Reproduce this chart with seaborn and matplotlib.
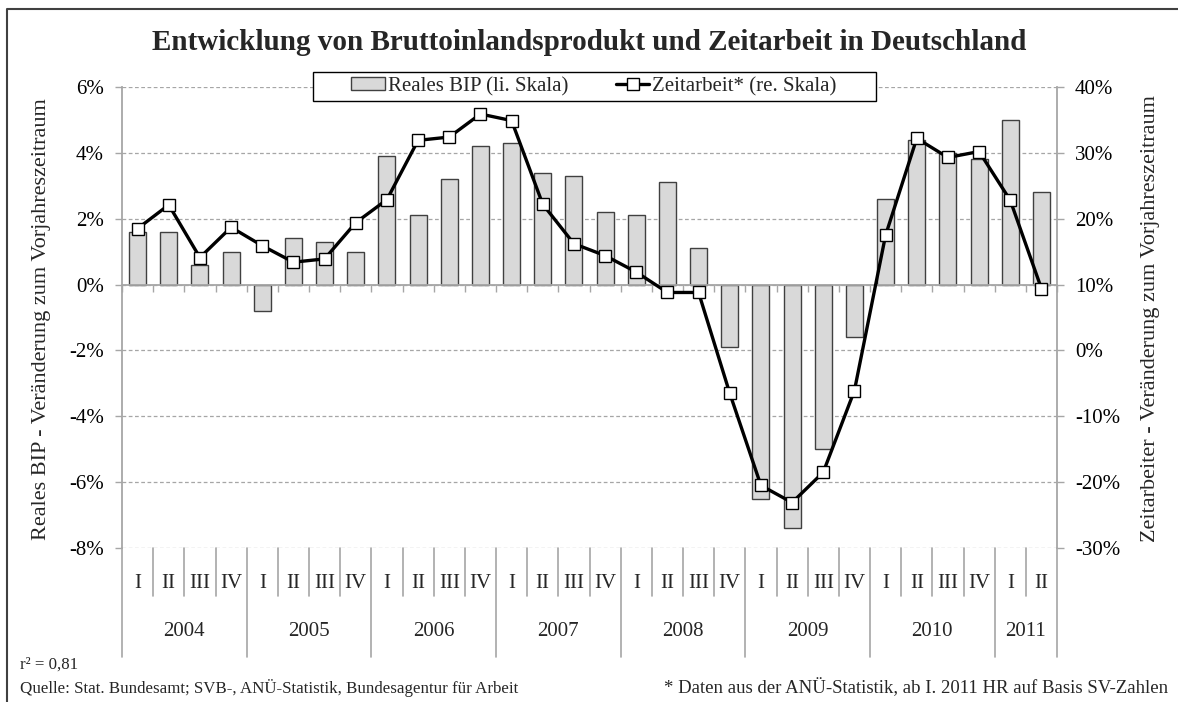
import matplotlib

matplotlib.use("Agg")

import matplotlib.pyplot as plt
import matplotlib.transforms as mtransforms
import numpy as np
import pandas as pd
import seaborn as sns
from matplotlib.lines import Line2D
from matplotlib.patches import Patch, Rectangle
from matplotlib.ticker import FuncFormatter, MultipleLocator

years = ["2004", "2005", "2006", "2007", "2008", "2009", "2010", "2011"]
quarters_per_year = [4, 4, 4, 4, 4, 4, 4, 2]
quarter_names = ["I", "II", "III", "IV"]

# Reales BIP, Veraenderung zum Vorjahreszeitraum in % (linke Skala)
bip = [1.6, 1.6, 0.6, 1.0,
       -0.8, 1.4, 1.3, 1.0,
       3.9, 2.1, 3.2, 4.2,
       4.3, 3.4, 3.3, 2.2,
       2.1, 3.1, 1.1, -1.9,
       -6.5, -7.4, -5.0, -1.6,
       2.6, 4.4, 4.0, 3.8,
       5.0, 2.8]

# Zeitarbeit, Veraenderung zum Vorjahreszeitraum in % (rechte Skala)
zeitarbeit = [18.5, 22.1, 14.1, 18.7,
              15.9, 13.4, 13.9, 19.4,
              22.9, 31.9, 32.4, 35.9,
              34.9, 22.2, 16.2, 14.4,
              11.9, 8.8, 8.8, -6.5,
              -20.5, -23.1, -18.5, -6.1,
              17.5, 32.2, 29.3, 30.2,
              22.8, 9.4]

labels = []
for year, n in zip(years, quarters_per_year):
    labels += [f"{q} {year}" for q in quarter_names[:n]]

df = pd.DataFrame({"quartal": labels, "bip": bip, "zeitarbeit": zeitarbeit})
df["pos"] = np.arange(len(df))

sns.set_theme(style="white")
plt.rcParams["font.family"] = ["Liberation Serif", "DejaVu Serif"]
plt.rcParams["axes.unicode_minus"] = False

GRAY = "#a6a6a6"
BAR = "#d9d9d9"
BAR_EDGE = "#404040"

fig = plt.figure(figsize=(11.78, 7.02), dpi=100)
ax = fig.add_axes([122 / 1178, 1 - 548 / 702, (1057 - 122) / 1178, (548 - 87) / 702])

sns.barplot(data=df, x="quartal", y="bip", color=BAR, width=0.55,
            edgecolor=BAR_EDGE, linewidth=1.0, saturation=1, ax=ax)
ax.set_xlim(-0.5, len(df) - 0.5)
ax.set_ylim(-8, 6)
ax.yaxis.set_major_locator(MultipleLocator(2))
ax.yaxis.set_major_formatter(FuncFormatter(lambda v, _: f"{v:.0f}%"))
ax.set_axisbelow(True)
ax.yaxis.grid(True, color=GRAY, linestyle=(0, (3, 2)), linewidth=0.9)
ax.xaxis.grid(False)
ax.set_xlabel("")
ax.set_ylabel("")

# category axis crosses at 0
ax.spines["bottom"].set_position(("data", 0))
ax.spines["bottom"].set_color(GRAY)
ax.spines["bottom"].set_linewidth(1.3)
ax.spines["top"].set_visible(False)
ax.spines["right"].set_visible(False)
ax.spines["left"].set_color(GRAY)
ax.spines["left"].set_linewidth(1.3)
ax.set_xticks(np.arange(-0.5, len(df), 1))
ax.set_xticklabels([])
ax.tick_params(axis="x", bottom=True, direction="out", length=5, width=1, color=GRAY)
ax.tick_params(axis="y", left=True, direction="out", length=5, width=1, color=GRAY,
               labelsize=15, pad=8, labelcolor="black")

ax2 = ax.twinx()
sns.lineplot(data=df, x="pos", y="zeitarbeit", color="black", linewidth=2.4,
             marker="s", markersize=8.5, markerfacecolor="white",
             markeredgecolor="black", markeredgewidth=1.0, ax=ax2)
ax2.set_xlim(-0.5, len(df) - 0.5)
ax2.set_ylim(-30, 40)
ax2.yaxis.set_major_locator(MultipleLocator(10))
ax2.yaxis.set_major_formatter(FuncFormatter(lambda v, _: f"{v:.0f}%"))
ax2.set_xlabel("")
ax2.set_ylabel("")
for side in ["top", "left", "bottom"]:
    ax2.spines[side].set_visible(False)
ax2.spines["right"].set_color(GRAY)
ax2.spines["right"].set_linewidth(1.3)
ax2.tick_params(axis="y", right=True, direction="out", length=5, width=1, color=GRAY,
                labelsize=15, pad=8, labelcolor="black")

# category labels below the plot
trans = mtransforms.blended_transform_factory(ax.transData, ax.transAxes)
axes_h = 548 - 87
q_bottom = -(596 - 548) / axes_h
y_bottom = -(657 - 548) / axes_h
start = 0
for year, n in zip(years, quarters_per_year):
    for k in range(n):
        ax.text(start + k, -(584 - 548) / axes_h, quarter_names[k], transform=trans,
                ha="center", va="center", fontsize=15)
        if k > 0:
            ax.plot([start + k - 0.5] * 2, [0, q_bottom], transform=trans,
                    color=GRAY, linewidth=1.2, clip_on=False)
    ax.plot([start - 0.5] * 2, [0, y_bottom], transform=trans,
            color=GRAY, linewidth=1.2, clip_on=False)
    ax.text(start + (n - 1) / 2, -(632 - 548) / axes_h, year, transform=trans,
            ha="center", va="center", fontsize=15)
    start += n
ax.plot([start - 0.5] * 2, [0, y_bottom], transform=trans,
        color=GRAY, linewidth=1.2, clip_on=False)

# legend box drawn separately so its padding matches the original
fig.patches.append(Rectangle((313 / 1178, 1 - 101 / 702), (876 - 313) / 1178, 29 / 702,
                             transform=fig.transFigure, facecolor="white",
                             edgecolor="black", linewidth=1.0, zorder=5))
handles = [
    Patch(facecolor=BAR, edgecolor=BAR_EDGE, linewidth=1.0),
    Line2D([0], [0], color="black", linewidth=2.4, marker="s", markersize=8.5,
           markerfacecolor="white", markeredgecolor="black", markeredgewidth=1.0),
]
leg = fig.legend(handles, ["Reales BIP (li. Skala)", "Zeitarbeit* (re. Skala)"],
                 loc="center", bbox_to_anchor=(594 / 1178, 1 - 86.5 / 702), ncol=2,
                 fontsize=15, frameon=False, borderpad=0.1, handlelength=1.6,
                 handleheight=0.6, handletextpad=0.15, columnspacing=2.3,
                 borderaxespad=0)
leg.set_zorder(6)

fig.text(0.5, 1 - 42 / 702, "Entwicklung von Bruttoinlandsprodukt und Zeitarbeit in Deutschland",
         ha="center", va="center", fontsize=21, fontweight="bold")
fig.text(42 / 1178, 1 - 319 / 702, "Reales BIP - Veränderung zum Vorjahreszeitraum",
         rotation=90, ha="center", va="center", fontsize=16)
fig.text(1151 / 1178, 1 - 319 / 702, "Zeitarbeiter - Veränderung zum Vorjahreszeitraum",
         rotation=90, ha="center", va="center", fontsize=16)
fig.text(20 / 1178, 1 - 665 / 702, "r² = 0,81", ha="left", va="center", fontsize=12.2)
fig.text(20 / 1178, 1 - 688 / 702,
         "Quelle: Stat. Bundesamt; SVB-, ANÜ-Statistik, Bundesagentur für Arbeit",
         ha="left", va="center", fontsize=12.2)
fig.text(1168 / 1178, 1 - 688 / 702,
         "* Daten aus der ANÜ-Statistik, ab I. 2011 HR auf Basis SV-Zahlen",
         ha="right", va="center", fontsize=13.5)

# outer frame (top and left edges are visible in the original)
fig.add_artist(Line2D([7 / 1178, 7 / 1178, 1], [0, 1 - 9 / 702, 1 - 9 / 702],
                      transform=fig.transFigure, color="#404040", linewidth=1.5))

fig.savefig("out.png", dpi=100)
plt.close(fig)
